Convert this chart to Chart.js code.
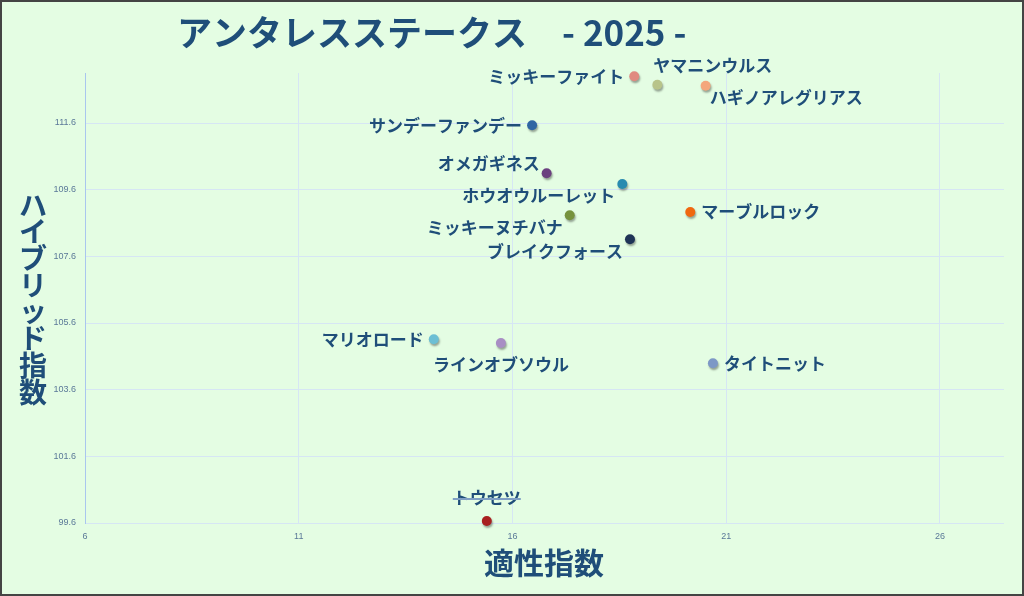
<!DOCTYPE html>
<html>
<head>
<meta charset="utf-8">
<script src="https://cdn.jsdelivr.net/npm/chart.js@4/dist/chart.umd.min.js"></script>
<style>
  html, body { margin: 0; padding: 0; background: #e4fde3; }
  #wrap { width: 1024px; height: 596px; position: relative; }
</style>
</head>
<body>
<div id="wrap"><canvas id="chart"></canvas></div>
<script>
// データ
const horses = ["ミッキーファイト", "ヤマニンウルス", "ハギノアレグリアス", "サンデーファンデー",
  "オメガギネス", "ホウオウルーレット", "マーブルロック", "ミッキーヌチバナ", "ブレイクフォース",
  "マリオロード", "ラインオブソウル", "タイトニット", "トウセツ"];
const tekisei = [18.85, 19.39, 20.52, 16.46, 16.8, 18.57, 20.16, 17.34, 18.75, 14.16, 15.73, 20.69, 15.40];
const hybrid = [113.0, 112.75, 112.72, 111.53, 110.09, 109.77, 108.93, 108.83, 108.11, 105.11, 105.0, 104.39, 99.66];
const scratched = ["トウセツ"];
const xTicks = [6, 11, 16, 21, 26];
const yTicks = [99.6, 101.6, 103.6, 105.6, 107.6, 109.6, 111.6];

// 見た目
const pointColors = ["#e08a80", "#b8c48a", "#f4a77c", "#2f65a3", "#6b3f7f", "#2a8bb0", "#f06810",
  "#76923c", "#1f3457", "#6cbfd4", "#a88ec4", "#7d98c6", "#a82020"];
const labelPlace = ["l", "ar", "br", "l", "al", "bl", "r", "bl", "bl", "l", "b", "r", "a"];
const NAVY = "#1f4e79";
const JP = "'Noto Sans CJK JP', 'Noto Sans', sans-serif";

const ctx = document.getElementById('chart').getContext('2d');

const decoPlugin = {
  id: "deco",
  beforeDraw(chart) {
    const c = chart.ctx;
    c.save();
    c.fillStyle = "#e4fde3";
    c.fillRect(0, 0, chart.width, chart.height);
    c.restore();
  },
  beforeDatasetsDraw(chart) {
    const c = chart.ctx;
    c.save();
    c.shadowColor = "rgba(0,0,0,0.35)";
    c.shadowBlur = 2;
    c.shadowOffsetX = 1;
    c.shadowOffsetY = 2;
  },
  afterDatasetsDraw(chart) {
    chart.ctx.restore();
    const c = chart.ctx;
    const meta = chart.getDatasetMeta(0);
    c.save();
    c.font = "bold 17px " + JP;
    c.fillStyle = NAVY;
    meta.data.forEach((pt, i) => {
      const x = pt.x, y = pt.y;
      let tx = x, ty = y;
      switch (labelPlace[i]) {
        case "l": c.textAlign = "right"; tx = x - 10; break;
        case "r": c.textAlign = "left"; tx = x + 11; break;
        case "ar": c.textAlign = "left"; tx = x - 4; ty = y - 19; break;
        case "br": c.textAlign = "left"; tx = x + 4; ty = y + 12; break;
        case "al": c.textAlign = "right"; tx = x - 7; ty = y - 10; break;
        case "bl": c.textAlign = "right"; tx = x - 7; ty = y + 12; break;
        case "b": c.textAlign = "center"; ty = y + 22; break;
        case "a": c.textAlign = "center"; ty = y - 23; break;
      }
      c.textBaseline = "middle";
      c.fillText(horses[i], tx, ty);
      if (scratched.includes(horses[i])) {
        const w = c.measureText(horses[i]).width;
        let x0 = tx;
        if (c.textAlign === "center") x0 = tx - w / 2;
        else if (c.textAlign === "right") x0 = tx - w;
        c.strokeStyle = "#7f9fc4";
        c.lineWidth = 2;
        c.beginPath();
        c.moveTo(x0, ty + 1);
        c.lineTo(x0 + w, ty + 1);
        c.stroke();
      }
    });
    c.restore();
  },
  afterDraw(chart) {
    const c = chart.ctx;
    c.save();
    // タイトル
    c.fillStyle = NAVY;
    c.font = "bold 35px " + JP;
    c.textAlign = "left";
    c.textBaseline = "middle";
    c.fillText("アンタレスステークス　- 2025 -", 177, 33);
    // 軸タイトル
    c.font = "bold 30px " + JP;
    c.textAlign = "center";
    c.fillText("適性指数", 544, 563);
    c.font = "bold 28px " + JP;
    const yt = "ハイブリッド指数";
    for (let i = 0; i < yt.length; i++) {
      c.fillText(yt[i], 33, 205 + i * 26.7);
    }
    // 枠
    c.strokeStyle = "#444";
    c.lineWidth = 2;
    c.strokeRect(1, 1, chart.width - 2, chart.height - 2);
    c.restore();
  }
};

new Chart(ctx, {
  type: 'scatter',
  data: {
    datasets: [{
      data: horses.map((h, i) => ({ x: tekisei[i], y: hybrid[i] })),
      clip: false,
      pointRadius: 5,
      pointHoverRadius: 5,
      pointBackgroundColor: pointColors,
      pointBorderColor: pointColors,
      pointBorderWidth: 0
    }]
  },
  options: {
    responsive: true,
    maintainAspectRatio: false,
    animation: false,
    layout: { padding: { top: 73, right: 20, left: 0, bottom: 0 } },
    plugins: {
      legend: { display: false },
      tooltip: { enabled: false },
      title: { display: false }
    },
    scales: {
      x: {
        type: 'linear',
        min: 6,
        max: 27.5,
        afterBuildTicks(scale) { scale.ticks = xTicks.map(v => ({ value: v })); },
        afterFit(scale) { scale.height = 73; },
        grid: { color: "#d6e6f4", drawTicks: false },
        border: { display: false },
        ticks: { color: "#5a7898", font: { size: 9 }, padding: 8 }
      },
      y: {
        type: 'linear',
        min: 99.6,
        max: 113.1,
        afterBuildTicks(scale) { scale.ticks = yTicks.map(v => ({ value: v })); },
        afterFit(scale) { scale.width = 85; },
        grid: { color: "#d6e6f4", drawTicks: false },
        border: { display: true, color: "#a9c6ee" },
        ticks: { color: "#5a7898", font: { size: 9 }, padding: 9, callback: v => v.toFixed(1) }
      }
    }
  },
  plugins: [decoPlugin]
});
</script>
</body>
</html>
